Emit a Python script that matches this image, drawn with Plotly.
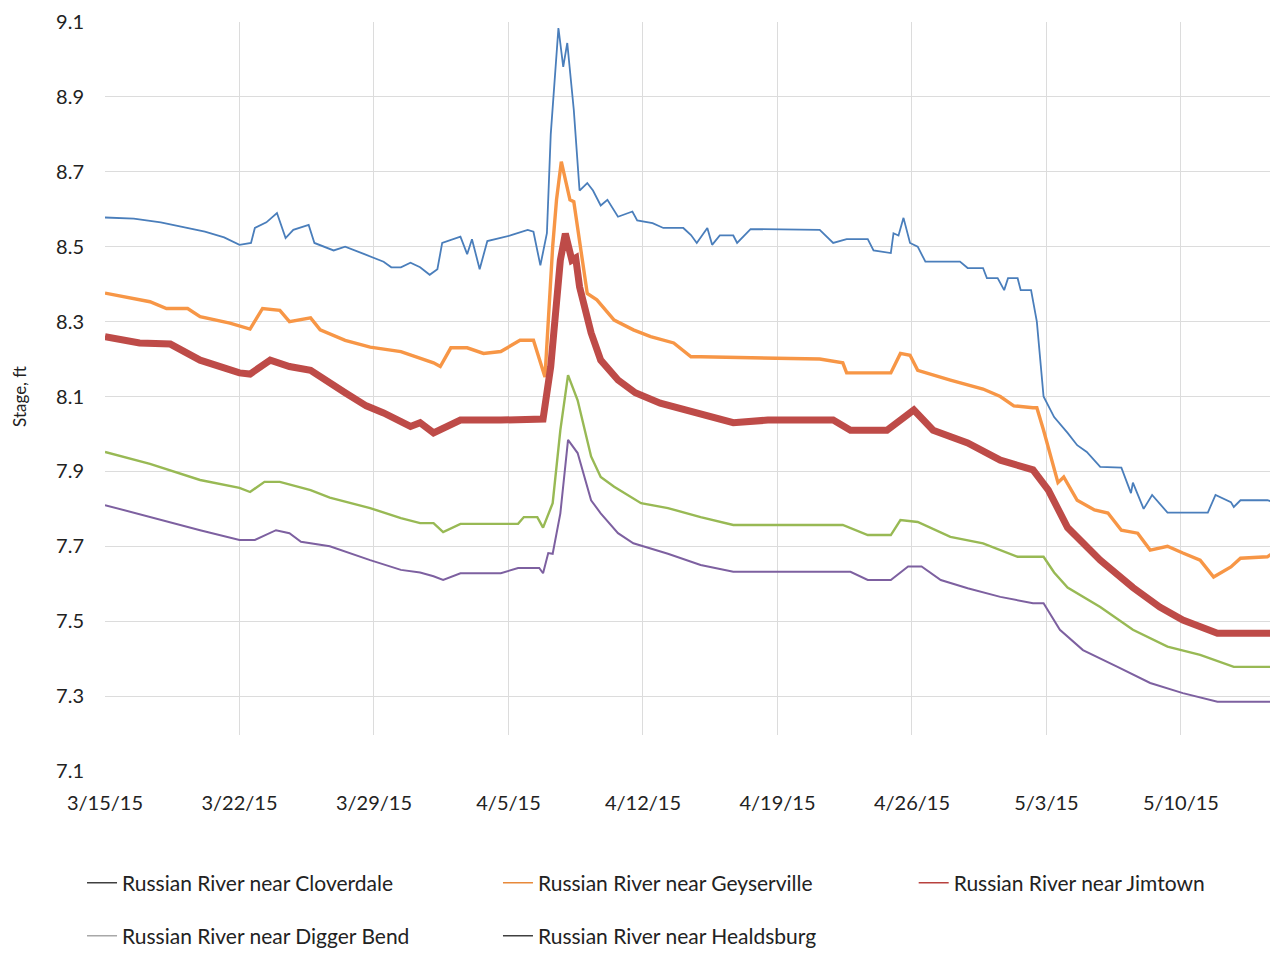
import pandas as pd
import plotly.graph_objects as go

START = pd.Timestamp("2015-03-15")

# Day offsets from 3/15/15 and stage (ft)
cloverdale_days = [0, 1.5, 2.9, 3.9, 5.2, 6.2, 7.0, 7.6, 7.8, 8.4, 8.95, 9.4, 9.8, 10.6, 10.9, 11.9, 12.5,
                   13.5, 14.5, 14.9, 15.4, 15.9, 16.4, 16.9, 17.3, 17.55, 18.5, 18.85, 19.1, 19.5, 19.9,
                   21.1, 22.0, 22.3, 22.66, 23.0, 23.2, 23.6, 23.85, 24.06, 24.4, 24.7, 25.1, 25.4, 25.8,
                   26.15, 26.7, 27.45, 27.7, 28.5, 29.06, 30.1, 30.5, 30.8, 31.35, 31.6, 32.0, 32.7, 32.9,
                   33.6, 37.2, 37.9, 38.6, 39.7, 40.0, 40.9, 41.04, 41.3, 41.56, 41.9, 42.3, 42.7, 44.5,
                   44.9, 45.7, 45.9, 46.46, 46.8, 47.0, 47.5, 47.66, 48.2, 48.5, 48.85, 49.4, 50.1, 50.6,
                   51.1, 51.8, 52.9, 53.4, 53.5, 54.06, 54.5, 55.1, 55.3, 57.4, 57.8, 58.6, 58.75, 59.1,
                   60.5, 60.7, 60.83, 61.0]
cloverdale_stage = [8.578, 8.575, 8.565, 8.555, 8.54, 8.525, 8.505, 8.51, 8.55, 8.565, 8.59, 8.523, 8.545,
                    8.558, 8.51, 8.49, 8.50, 8.48, 8.46, 8.445, 8.445, 8.457, 8.445, 8.425, 8.44, 8.51,
                    8.527, 8.48, 8.52, 8.44, 8.515, 8.53, 8.545, 8.54, 8.45, 8.536, 8.80, 9.084, 8.98,
                    9.044, 8.865, 8.65, 8.67, 8.65, 8.61, 8.625, 8.58, 8.594, 8.57, 8.563, 8.55, 8.55,
                    8.531, 8.51, 8.55, 8.505, 8.53, 8.53, 8.51, 8.547, 8.545, 8.51, 8.52, 8.52, 8.49,
                    8.483, 8.536, 8.53, 8.577, 8.51, 8.50, 8.46, 8.46, 8.443, 8.443, 8.416, 8.416, 8.384,
                    8.416, 8.416, 8.384, 8.384, 8.30, 8.10, 8.045, 8.003, 7.97, 7.952, 7.912, 7.91, 7.842,
                    7.87, 7.80, 7.837, 7.80, 7.79, 7.79, 7.837, 7.818, 7.805, 7.823, 7.823, 7.82, 7.877,
                    7.957]

geyserville_days = [0, 2.34, 3.2, 4.3, 4.95, 6.5, 7.55, 8.2, 9.1, 9.6, 10.7, 11.2, 12.5, 13.8, 15.4, 16.4,
                    17.1, 17.45, 18.0, 18.85, 19.7, 20.6, 21.6, 22.3, 22.5, 22.9, 23.3, 23.5, 23.75, 24.2,
                    24.4, 25.1, 25.6, 26.5, 27.5, 28.4, 29.6, 30.5, 31.0, 31.9, 37.2, 38.4, 38.6, 40.9,
                    41.4, 41.9, 42.3, 44.0, 45.7, 46.6, 47.3, 48.3, 48.5, 48.85, 49.6, 49.9, 50.6, 51.5,
                    52.2, 52.9, 53.75, 54.4, 55.3, 56.1, 57.0, 57.7, 58.6, 59.1, 60.5, 61.0]
geyserville_stage = [8.376, 8.353, 8.335, 8.335, 8.313, 8.296, 8.28, 8.335, 8.33, 8.30, 8.31, 8.278, 8.25,
                     8.232, 8.22, 8.203, 8.19, 8.18, 8.23, 8.23, 8.215, 8.22, 8.25, 8.25, 8.215, 8.152,
                     8.50, 8.625, 8.727, 8.625, 8.62, 8.375, 8.358, 8.304, 8.278, 8.26, 8.243, 8.206,
                     8.206, 8.205, 8.20, 8.19, 8.163, 8.163, 8.215, 8.21, 8.17, 8.144, 8.12, 8.10, 8.075,
                     8.07, 8.07, 8.01, 7.87, 7.885, 7.823, 7.797, 7.789, 7.743, 7.735, 7.69, 7.70, 7.682,
                     7.663, 7.618, 7.645, 7.668, 7.672, 7.69]

jimtown_days = [0, 1.8, 3.4, 4.95, 7.0, 7.55, 8.6, 9.6, 10.7, 11.7, 12.5, 13.6, 14.5, 15.9, 16.4, 17.1,
                18.5, 20.6, 21.5, 22.8, 23.2, 23.4, 23.7, 23.96, 24.3, 24.5, 24.7, 25.3, 25.8, 26.7,
                27.6, 28.9, 31.0, 32.7, 34.5, 37.9, 38.8, 40.7, 42.1, 43.1, 44.9, 46.6, 48.3, 49.1,
                50.1, 51.8, 53.5, 54.9, 56.1, 57.9, 61.0]
jimtown_stage = [8.26, 8.243, 8.24, 8.197, 8.163, 8.16, 8.197, 8.18, 8.17, 8.135, 8.11, 8.075, 8.056,
                 8.02, 8.03, 8.003, 8.037, 8.037, 8.04, 8.04, 8.18, 8.313, 8.464, 8.535, 8.464, 8.47,
                 8.393, 8.27, 8.197, 8.144, 8.11, 8.082, 8.055, 8.03, 8.037, 8.037, 8.01, 8.01, 8.064,
                 8.01, 7.976, 7.93, 7.904, 7.85, 7.75, 7.663, 7.59, 7.538, 7.503, 7.468, 7.468]

digger_days = [0, 2.34, 4.95, 7.0, 7.55, 8.3, 9.1, 10.7, 11.7, 13.8, 15.4, 16.4, 17.1, 17.6, 18.5, 21.5,
               21.8, 22.5, 22.8, 23.3, 23.7, 24.1, 24.6, 25.3, 25.8, 26.5, 27.9, 29.3, 31.0, 32.7, 38.4,
               39.7, 40.9, 41.4, 42.3, 44.0, 45.7, 47.5, 48.85, 49.4, 50.1, 51.8, 53.5, 55.3, 57.0,
               58.75, 61.0]
digger_stage = [7.952, 7.92, 7.877, 7.856, 7.845, 7.872, 7.872, 7.85, 7.83, 7.802, 7.775, 7.762, 7.762,
                7.738, 7.76, 7.76, 7.778, 7.778, 7.75, 7.815, 8.01, 8.157, 8.09, 7.94, 7.885, 7.859,
                7.815, 7.802, 7.778, 7.757, 7.757, 7.73, 7.73, 7.77, 7.765, 7.725, 7.708, 7.672, 7.672,
                7.63, 7.59, 7.538, 7.477, 7.432, 7.41, 7.378, 7.378]

healdsburg_days = [0, 2.34, 4.95, 7.0, 7.8, 8.9, 9.6, 10.2, 11.7, 13.8, 15.4, 16.4, 17.1, 17.6, 18.5,
                   20.6, 21.5, 22.6, 22.8, 23.07, 23.3, 23.7, 24.1, 24.6, 25.3, 25.8, 26.7, 27.5, 29.3,
                   31.0, 32.7, 38.8, 39.7, 40.9, 41.8, 42.5, 43.5, 44.9, 46.6, 48.3, 48.85, 49.7, 50.9,
                   52.7, 54.4, 56.1, 57.9, 61.0]
healdsburg_stage = [7.81, 7.778, 7.743, 7.717, 7.717, 7.743, 7.735, 7.712, 7.70, 7.663, 7.637, 7.63, 7.62,
                    7.61, 7.628, 7.628, 7.642, 7.642, 7.628, 7.682, 7.68, 7.788, 7.984, 7.949, 7.823,
                    7.788, 7.735, 7.708, 7.68, 7.65, 7.632, 7.632, 7.61, 7.61, 7.646, 7.646, 7.61, 7.588,
                    7.565, 7.548, 7.548, 7.477, 7.423, 7.378, 7.335, 7.308, 7.285, 7.285]

series_names = ["Russian River near Cloverdale", "Russian River near Geyserville",
                "Russian River near Jimtown", "Russian River near Digger Bend",
                "Russian River near Healdsburg"]
series_colors = ["#4a7ebb", "#f79646", "#be4b48", "#98b954", "#7d60a0"]
legend_colors = ["#404040", "#e8893a", "#b8413e", "#a8a8a8", "#404040"]
series_widths = [1.8, 3.4, 7.0, 2.4, 2.0]

tick_dates = ["2015-03-15", "2015-03-22", "2015-03-29", "2015-04-05", "2015-04-12",
              "2015-04-19", "2015-04-26", "2015-05-03", "2015-05-10"]
tick_labels = ["3/15/15", "3/22/15", "3/29/15", "4/5/15", "4/12/15",
               "4/19/15", "4/26/15", "5/3/15", "5/10/15"]
y_ticks = [7.1, 7.3, 7.5, 7.7, 7.9, 8.1, 8.3, 8.5, 8.7, 8.9, 9.1]

all_days = [cloverdale_days, geyserville_days, jimtown_days, digger_days, healdsburg_days]
all_stage = [cloverdale_stage, geyserville_stage, jimtown_stage, digger_stage, healdsburg_stage]

fig = go.Figure()
for days, stage, color, width in zip(all_days, all_stage, series_colors, series_widths):
    x = START + pd.to_timedelta(days, unit="D")
    fig.add_trace(go.Scatter(x=x, y=stage, mode="lines", showlegend=False,
                             line=dict(color=color, width=width)))

FONT = "Lato, 'Open Sans', sans-serif"
TXT = "#222222"

# one legend box per entry: 3 columns x 2 rows, as in the reference
legend_ids = ["legend", "legend2", "legend3", "legend4", "legend5"]
legend_pos = [(-0.0196, -0.1495), (0.3353, -0.1495), (0.690, -0.1495),
              (-0.0196, -0.2203), (0.3353, -0.2203)]
for name, color, lid in zip(series_names, legend_colors, legend_ids):
    fig.add_trace(go.Scatter(x=[None], y=[None], mode="lines", name=name,
                             line=dict(color=color, width=1.5), legend=lid))

legend_layout = {}
for lid, (lx, ly) in zip(legend_ids, legend_pos):
    legend_layout[lid] = dict(x=lx, y=ly, xanchor="left", yanchor="middle",
                              orientation="h", bgcolor="rgba(0,0,0,0)",
                              font=dict(family=FONT, size=21, color=TXT), itemwidth=30)

# whitened strip along the bottom of the plot area, as in the reference
fig.add_shape(type="rect", xref="paper", x0=-0.01, x1=1.0, yref="y", y0=7.1, y1=7.196,
              fillcolor="white", line=dict(width=0), layer="above")

# page body has an 8px default margin: compensate so the plot lands where the reference has it
fig.update_layout(
    width=1270, height=949,
    margin=dict(l=97, r=1, t=14, b=178),
    paper_bgcolor="white", plot_bgcolor="white",
    font=dict(family=FONT, size=20, color=TXT),
    xaxis=dict(
        type="date", automargin=False,
        range=[START, START + pd.Timedelta(days=61)],
        tickvals=tick_dates, ticktext=tick_labels,
        showgrid=True, gridcolor="#dcdcdc", gridwidth=1,
        showline=False, zeroline=False, ticks="",
        ticklabelstandoff=18,
        tickfont=dict(family=FONT, size=20, color=TXT),
    ),
    yaxis=dict(
        range=[7.1, 9.1], tickvals=y_ticks, automargin=False,
        ticktext=[f"{v:.1f}" for v in y_ticks],
        showgrid=True, gridcolor="#dcdcdc", gridwidth=1,
        showline=False, zeroline=False, ticks="",
        ticklabelstandoff=20,
        tickfont=dict(family=FONT, size=20, color=TXT),
        title=dict(text="Stage, ft", font=dict(family=FONT, size=17, color=TXT), standoff=25),
    ),
    **legend_layout,
)

fig.write_html("out.html")
